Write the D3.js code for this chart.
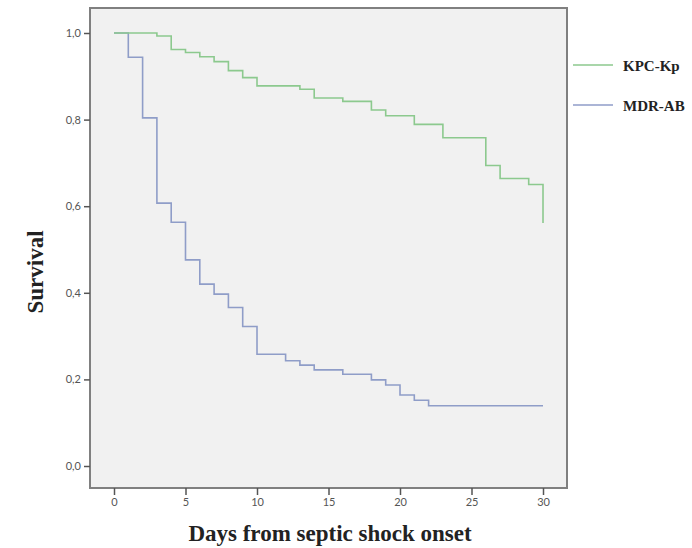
<!DOCTYPE html>
<html>
<head>
<meta charset="utf-8">
<script src="https://cdnjs.cloudflare.com/ajax/libs/d3/7.8.5/d3.min.js"></script>
<style>
  body { margin: 0; background: #fff; }
  svg { display: block; }
</style>
</head>
<body>
<div id="chart"></div>
<script>
// survival steps: [day, survival after the step]
var kpcDays = [0, 3, 4, 5, 6, 7, 8, 9, 10, 13, 14, 16, 18, 19, 21, 23, 26, 27, 29, 30];
var kpcSurv = [1.0, 0.993, 0.962, 0.955, 0.945, 0.934, 0.913, 0.897, 0.878, 0.870, 0.850, 0.842, 0.822, 0.809, 0.789, 0.758, 0.694, 0.664, 0.650, 0.561];
var mdrDays = [0, 1, 2, 3, 4, 5, 6, 7, 8, 9, 10, 12, 13, 14, 16, 18, 19, 20, 21, 22, 30];
var mdrSurv = [1.0, 0.944, 0.804, 0.607, 0.563, 0.476, 0.420, 0.397, 0.366, 0.322, 0.258, 0.243, 0.233, 0.222, 0.212, 0.199, 0.187, 0.164, 0.152, 0.139, 0.139];
var seriesNames = ["KPC-Kp", "MDR-AB"];
var seriesColors = ["#8cc98e", "#8f9dc8"];
var xTicks = [0, 5, 10, 15, 20, 25, 30];
var yTicks = [0, 0.2, 0.4, 0.6, 0.8, 1.0];

var width = 692, height = 548;
var frame = {left: 90, top: 8, right: 567, bottom: 488};

var svg = d3.select("#chart").append("svg")
    .attr("width", width)
    .attr("height", height);

var x = d3.scaleLinear().domain([0, 30]).range([114, 543]);
var y = d3.scaleLinear().domain([0, 1]).range([466, 33]);

svg.append("rect")
    .attr("x", frame.left)
    .attr("y", frame.top)
    .attr("width", frame.right - frame.left)
    .attr("height", frame.bottom - frame.top)
    .style("fill", "#f1f1f1")
    .style("stroke", "#808080")
    .style("stroke-width", 2);

var fmt = function (d) { return d3.format(".1f")(d).replace(".", ","); };

var yAxis = svg.append("g")
    .attr("transform", "translate(" + frame.left + ",0)")
    .call(d3.axisLeft(y).tickValues(yTicks).tickSize(6).tickPadding(3).tickFormat(fmt));

var xAxis = svg.append("g")
    .attr("transform", "translate(0," + frame.bottom + ")")
    .call(d3.axisBottom(x).tickValues(xTicks).tickSize(7).tickPadding(3));

[yAxis, xAxis].forEach(function (g) {
    g.select(".domain").remove();
    g.selectAll(".tick line").style("stroke", "#555").style("stroke-width", 1.5);
    g.selectAll(".tick text")
        .style("font-family", "Lato, 'Open Sans', sans-serif")
        .style("font-size", "11px")
        .style("fill", "#555");
});

var line = d3.line()
    .x(function (d) { return x(d[0]); })
    .y(function (d) { return y(d[1]); })
    .curve(d3.curveStepAfter);

var series = [
    d3.zip(kpcDays, kpcSurv),
    d3.zip(mdrDays, mdrSurv)
];

// draw MDR first so KPC sits on top at the shared start
[1, 0].forEach(function (i) {
    svg.append("path")
        .datum(series[i])
        .attr("d", line)
        .style("fill", "none")
        .style("stroke", seriesColors[i])
        .style("stroke-width", 1.6);
});

// legend
var legend = svg.selectAll(".legend")
    .data(seriesNames)
    .enter()
    .append("g")
    .attr("transform", function (d, i) { return "translate(573," + (65 + i * 40) + ")"; });

legend.append("line")
    .attr("x1", 0)
    .attr("x2", 40)
    .style("stroke", function (d, i) { return seriesColors[i]; })
    .style("stroke-width", 1.6);

legend.append("text")
    .attr("x", 50)
    .attr("y", 6)
    .style("font-family", "'Liberation Serif', 'Times New Roman', serif")
    .style("font-weight", "bold")
    .style("font-size", "15px")
    .style("fill", "#222")
    .text(function (d) { return d; });

// axis titles
svg.append("text")
    .attr("transform", "translate(43,272) rotate(-90)")
    .attr("text-anchor", "middle")
    .style("font-family", "'Liberation Serif', 'Times New Roman', serif")
    .style("font-weight", "bold")
    .style("font-size", "23px")
    .style("fill", "#222")
    .text("Survival");

svg.append("text")
    .attr("x", 330)
    .attr("y", 541)
    .attr("text-anchor", "middle")
    .style("font-family", "'Liberation Serif', 'Times New Roman', serif")
    .style("font-weight", "bold")
    .style("font-size", "23px")
    .style("fill", "#222")
    .text("Days from septic shock onset");
</script>
</body>
</html>
